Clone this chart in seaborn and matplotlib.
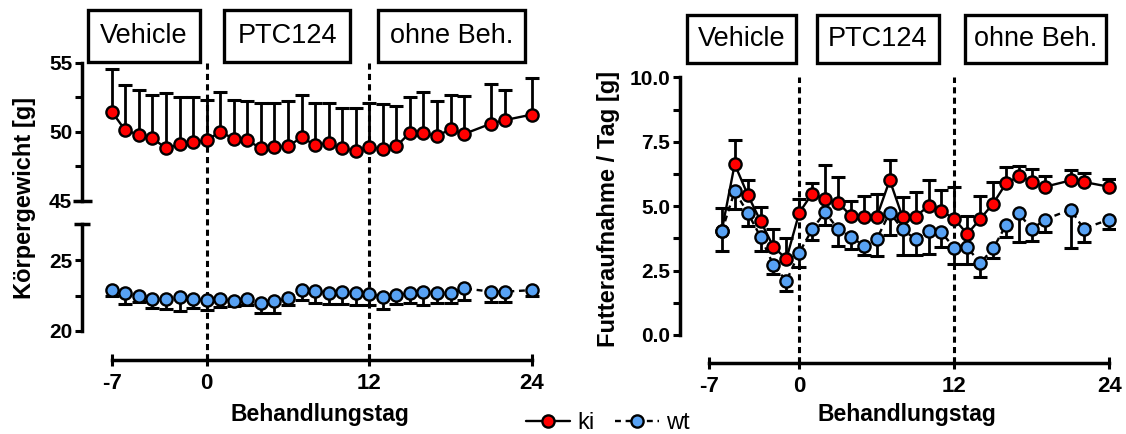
import numpy as np
import pandas as pd
import matplotlib
matplotlib.use("Agg")
import matplotlib.pyplot as plt
import matplotlib.transforms as mtransforms
from matplotlib.patches import Rectangle
from matplotlib.lines import Line2D
import seaborn as sns

# ---------------- data ----------------
# body weight (g), mean and SEM per treatment day
days_bw = list(range(-7, 20)) + [21, 22, 24]
ki_bw = [51.45, 50.1, 49.8, 49.55, 48.8, 49.1, 49.25, 49.4, 50.0, 49.5,
         49.4, 48.8, 48.9, 48.95, 49.6, 49.05, 49.2, 48.8, 48.65, 48.9,
         48.75, 48.95, 49.95, 49.9, 49.7, 50.2, 49.85, 50.6, 50.85, 51.25]
ki_bw_sem = [3.1, 3.3, 3.25, 3.15, 4.0, 3.4, 3.25, 2.9, 2.85, 2.8,
             2.8, 3.25, 3.15, 3.25, 3.05, 3.0, 2.85, 2.9, 3.05, 3.15,
             3.25, 2.9, 2.6, 2.95, 2.55, 2.5, 2.75, 2.85, 2.15, 2.65]
wt_bw = [22.9, 22.65, 22.5, 22.23, 22.23, 22.4, 22.24, 22.15, 22.24, 22.13,
         22.24, 21.95, 22.1, 22.3, 22.92, 22.8, 22.7, 22.77, 22.65, 22.6,
         22.42, 22.54, 22.65, 22.72, 22.68, 22.7, 23.0, 22.77, 22.77, 22.88]
wt_bw_sem = [0.45, 0.75, 0.47, 0.63, 0.7, 1.0, 0.63, 0.7, 0.52, 0.4,
             0.42, 0.7, 0.8, 0.47, 0.72, 0.85, 0.77, 0.87, 0.85, 0.8,
             0.87, 0.65, 0.65, 0.86, 0.72, 0.75, 0.8, 0.7, 0.7, 0.42]

# food intake per day (g), mean and SEM
days_fi = list(range(-6, 20)) + [21, 22, 24]
ki_fi = [4.05, 6.63, 5.45, 4.42, 3.42, 2.95, 4.75, 5.49, 5.27, 5.13,
         4.63, 4.59, 4.59, 6.01, 4.56, 4.59, 5.01, 4.82, 4.5, 3.92,
         4.5, 5.1, 5.88, 6.16, 5.95, 5.75, 6.0, 5.94, 5.75]
ki_fi_sem = [0.87, 0.95, 0.55, 0.55, 0.68, 0.8, 0.51, 0.41, 1.32, 1.01,
             0.56, 0.8, 0.9, 0.8, 0.8, 0.94, 1.0, 0.8, 1.24, 0.68,
             0.89, 0.82, 0.64, 0.4, 0.48, 0.43, 0.42, 0.36, 0.31]
wt_fi = [4.02, 5.58, 4.75, 3.81, 2.71, 2.1, 3.2, 4.1, 4.77, 4.1,
         3.81, 3.46, 3.73, 4.75, 4.1, 3.71, 4.04, 3.98, 3.38, 3.41,
         2.78, 3.36, 4.26, 4.72, 4.1, 4.48, 4.87, 4.13, 4.48]
wt_fi_sem = [0.75, 0.68, 0.53, 0.54, 0.35, 0.38, 0.56, 0.4, 0.52, 0.65,
             0.49, 0.36, 0.66, 0.87, 1.0, 0.61, 0.91, 0.58, 0.63, 0.66,
             0.52, 0.39, 0.47, 1.13, 0.46, 0.5, 1.49, 0.54, 0.38]

day_ticks = [-7, 0, 12, 24]
phase_days = [0, 12]
phase_labels = ["Vehicle", "PTC124", "ohne Beh."]
group_labels = ["ki", "wt"]

RED = "#FF0000"
BLUE = "#58A2F4"

# ---------------- style ----------------
sns.set_style("ticks")
plt.rcParams["font.family"] = ["Liberation Sans", "DejaVu Sans"]
for key in ("axes.edgecolor", "xtick.color", "ytick.color", "text.color",
            "axes.labelcolor", "xtick.labelcolor", "ytick.labelcolor"):
    plt.rcParams[key] = "black"

W, H = 1126, 434
fig = plt.figure(figsize=(W / 100, H / 100), dpi=100)


def px_axes(x0, y0, x1, y1, **kw):
    return fig.add_axes([x0 / W, 1 - y1 / H, (x1 - x0) / W, (y1 - y0) / H], **kw)


SPINE_LW = 2.5
LINE_LW = 1.7
MS = 8.8
MEW = 1.7
CAP_MS = 10


def series(ax, x, y, sem, face, upward, dashed):
    y = np.asarray(y)
    sem = np.asarray(sem)
    end = y + sem if upward else y - sem
    ax.vlines(x, y, end, color="black", lw=2.0, zorder=2)
    ax.plot(x, end, ls="none", marker="_", ms=CAP_MS, mew=2.2,
            color="black", zorder=2)
    df = pd.DataFrame({"day": x, "val": y})
    sns.lineplot(data=df, x="day", y="val", ax=ax, color="black",
                 lw=LINE_LW, ls=(0, (2.5, 2.0)) if dashed else "-",
                 marker="o", markersize=MS, markerfacecolor=face,
                 markeredgecolor="black", markeredgewidth=MEW,
                 errorbar=None, legend=False, zorder=4, clip_on=False)


def frame(x0, y0, x1, y1, xlim):
    ax = px_axes(x0, y0, x1, y1, facecolor="none")
    ax.set_xlim(*xlim)
    ax.set_ylim(0, 1)
    for s in ("left", "right", "top"):
        ax.spines[s].set_visible(False)
    ax.spines["bottom"].set_linewidth(SPINE_LW)
    ax.spines["bottom"].set_bounds(day_ticks[0], day_ticks[-1])
    ax.set_yticks([])
    ax.set_xticks(day_ticks, [str(d) for d in day_ticks],
                  fontsize=16, fontweight="bold")
    ax.tick_params(axis="x", direction="inout", length=9, width=2.2, pad=5)
    for d in phase_days:
        ax.axvline(d, ymin=0, ymax=1, color="black", lw=2.2,
                   ls=(0, (2.0, 1.4)), zorder=1)
    return ax


def data_axes(x0, y0, x1, y1, xlim, ylim):
    ax = px_axes(x0, y0, x1, y1, facecolor="none")
    ax.set_xlim(*xlim)
    ax.set_ylim(*ylim)
    for s in ("right", "top", "bottom"):
        ax.spines[s].set_visible(False)
    ax.spines["left"].set_linewidth(SPINE_LW)
    ax.set_xticks([])
    ax.tick_params(axis="y", which="both", direction="out", length=5,
                   width=2.2, pad=2)
    return ax


def finish(ax, xlim, ylim):
    ax.set_xlim(*xlim)
    ax.set_ylim(*ylim)
    ax.set_xlabel("")
    ax.set_ylabel("")


def box(x0, y0, x1, y1, text):
    fig.patches.append(Rectangle((x0 / W, 1 - y1 / H), (x1 - x0) / W,
                                 (y1 - y0) / H, transform=fig.transFigure,
                                 fill=False, lw=2.4, edgecolor="black"))
    fig.text((x0 + x1) / 2 / W, 1 - (y0 + y1) / 2 / H, text, ha="center",
             va="center", fontsize=19.5)


# ---------------- left panel: body weight ----------------
L0, LS = 206.7, 13.55           # pixel of day 0, pixels per day
lx0, lx1 = 82, 540
lxlim = ((lx0 - L0) / LS, (lx1 - L0) / LS)

frame(lx0, 62, lx1, 360, lxlim)

ax_up = data_axes(lx0, 62.7, lx1, 201, lxlim, (45, 55))
ax_up.set_yticks([45, 50, 55], ["45", "50", "55"], fontsize=15,
                 fontweight="bold")
ax_up.set_yticks([47.5, 52.5], minor=True)
series(ax_up, days_bw, ki_bw, ki_bw_sem, RED, True, False)
finish(ax_up, lxlim, (45, 55))

ax_lo = data_axes(lx0, 224.5, lx1, 331, lxlim, (20, 27.5))
ax_lo.set_yticks([20, 25], ["20", "25"], fontsize=15, fontweight="bold")
ax_lo.set_yticks([22.5], minor=True)
series(ax_lo, days_bw, wt_bw, wt_bw_sem, BLUE, False, True)
finish(ax_lo, lxlim, (20, 27.5))

# axis-break bars
aw = lx1 - lx0
for ax, yv, half in ((ax_up, 45, 9.5), (ax_lo, 27.5, 8)):
    tr = mtransforms.blended_transform_factory(ax.transAxes, ax.transData)
    ax.plot([-half / aw, half / aw], [yv, yv], transform=tr, color="black",
            lw=SPINE_LW, clip_on=False, solid_capstyle="butt")

fig.text(25 / W, 1 - 197.5 / H, "Körpergewicht [g]", rotation=90,
         ha="center", va="center", fontsize=17, fontweight="bold")
fig.text(320 / W, 1 - 414 / H, "Behandlungstag", ha="center", va="center",
         fontsize=16.5, fontweight="bold")

box(88, 10, 200, 62, phase_labels[0])
box(224, 10, 350, 62, phase_labels[1])
box(378, 10, 525, 62, phase_labels[2])

# ---------------- right panel: food intake ----------------
R0, RS = 799.3, 12.92
rx0, rx1 = 680, 1115
rxlim = ((rx0 - R0) / RS, (rx1 - R0) / RS)

frame(rx0, 77, rx1, 363.3, rxlim)

ax_fi = data_axes(rx0, 77.3, rx1, 335, rxlim, (0, 10))
fi_ticks = [0, 2.5, 5, 7.5, 10]
ax_fi.set_yticks(fi_ticks, [f"{t:.1f}" for t in fi_ticks], fontsize=15,
                 fontweight="bold")
ax_fi.set_yticks([1.25, 3.75, 6.25, 8.75], minor=True)
series(ax_fi, days_fi, ki_fi, ki_fi_sem, RED, True, False)
series(ax_fi, days_fi, wt_fi, wt_fi_sem, BLUE, False, True)
finish(ax_fi, rxlim, (0, 10))

fig.text(609 / W, 1 - 208.5 / H, "Futteraufnahme / Tag [g]", rotation=90,
         ha="center", va="center", fontsize=17, fontweight="bold")
fig.text(907 / W, 1 - 414 / H, "Behandlungstag", ha="center", va="center",
         fontsize=16.5, fontweight="bold")

box(687, 15, 796, 63, phase_labels[0])
box(817, 15, 939, 63, phase_labels[1])
box(965, 15, 1106, 63, phase_labels[2])

# ---------------- legend ----------------
handles = [
    Line2D([], [], color="black", lw=LINE_LW, marker="o", ms=MS,
           mfc=RED, mec="black", mew=MEW),
    Line2D([], [], color="black", lw=LINE_LW, ls=(0, (2.5, 2.0)),
           marker="o", ms=MS, mfc=BLUE, mec="black", mew=MEW),
]
fig.legend(handles, group_labels, loc="center", ncol=2,
           bbox_to_anchor=(608 / W, 1 - 423 / H), frameon=False,
           fontsize=17, handlelength=1.85, handletextpad=0.3,
           columnspacing=0.9, borderpad=0, borderaxespad=0)

fig.savefig("out.png", dpi=100)
